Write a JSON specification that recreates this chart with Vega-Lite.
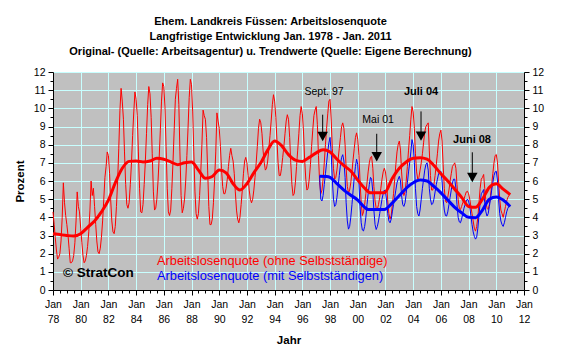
{
"$schema":"https://vega.github.io/schema/vega-lite/v6.json",
"width":471,"height":218,
"autosize":"none",
"padding":{"left":53,"top":72,"right":37,"bottom":68},
"background":"#FFFFFF",
"config":{"font":"Liberation Sans","view":{"fill":"#C0C0C0","stroke":null}},
"title":{"text":["Ehem. Landkreis Füssen: Arbeitslosenquote","Langfristige Entwicklung Jan. 1978 - Jan. 2011","Original- (Quelle: Arbeitsagentur) u. Trendwerte (Quelle: Eigene Berechnung)"],"font":"Liberation Sans","fontSize":11,"fontWeight":"bold","color":"#000000","lineHeight":15,"anchor":"middle","frame":"group","dx":-18,"offset":10},
"datasets":{
"red":[
{"d":"1978-01","v":4.3},{"d":"1978-02","v":3.6},{"d":"1978-03","v":2.9},{"d":"1978-04","v":2.2},{"d":"1978-05","v":1.7},{"d":"1978-06","v":1.8},{"d":"1978-07","v":2.0},{"d":"1978-08","v":2.7},{"d":"1978-09","v":4.0},{"d":"1978-10","v":5.9},{"d":"1978-11","v":4.8},{"d":"1978-12","v":4.1},
{"d":"1979-01","v":3.6},{"d":"1979-02","v":3.0},{"d":"1979-03","v":2.3},{"d":"1979-04","v":1.5},{"d":"1979-05","v":1.5},{"d":"1979-06","v":1.6},{"d":"1979-07","v":1.9},{"d":"1979-08","v":2.6},{"d":"1979-09","v":3.8},{"d":"1979-10","v":5.4},{"d":"1979-11","v":4.6},{"d":"1979-12","v":4.3},
{"d":"1980-01","v":3.4},{"d":"1980-02","v":2.6},{"d":"1980-03","v":1.9},{"d":"1980-04","v":1.5},{"d":"1980-05","v":1.6},{"d":"1980-06","v":1.9},{"d":"1980-07","v":2.4},{"d":"1980-08","v":3.2},{"d":"1980-09","v":4.4},{"d":"1980-10","v":6.0},{"d":"1980-11","v":5.2},{"d":"1980-12","v":5.6},
{"d":"1981-01","v":4.6},{"d":"1981-02","v":3.6},{"d":"1981-03","v":2.7},{"d":"1981-04","v":2.1},{"d":"1981-05","v":2.0},{"d":"1981-06","v":2.3},{"d":"1981-07","v":2.9},{"d":"1981-08","v":3.8},{"d":"1981-09","v":5.0},{"d":"1981-10","v":6.2},{"d":"1981-11","v":6.8},{"d":"1981-12","v":7.6},
{"d":"1982-01","v":7.4},{"d":"1982-02","v":6.4},{"d":"1982-03","v":5.0},{"d":"1982-04","v":3.8},{"d":"1982-05","v":3.2},{"d":"1982-06","v":3.1},{"d":"1982-07","v":3.5},{"d":"1982-08","v":4.6},{"d":"1982-09","v":6.0},{"d":"1982-10","v":7.8},{"d":"1982-11","v":9.9},{"d":"1982-12","v":11.1},
{"d":"1983-01","v":10.4},{"d":"1983-02","v":9.4},{"d":"1983-03","v":7.6},{"d":"1983-04","v":5.8},{"d":"1983-05","v":4.7},{"d":"1983-06","v":4.5},{"d":"1983-07","v":4.8},{"d":"1983-08","v":5.8},{"d":"1983-09","v":7.0},{"d":"1983-10","v":8.5},{"d":"1983-11","v":9.8},{"d":"1983-12","v":10.9},
{"d":"1984-01","v":10.5},{"d":"1984-02","v":9.6},{"d":"1984-03","v":7.6},{"d":"1984-04","v":5.6},{"d":"1984-05","v":4.3},{"d":"1984-06","v":4.25},{"d":"1984-07","v":4.7},{"d":"1984-08","v":5.8},{"d":"1984-09","v":7.1},{"d":"1984-10","v":8.6},{"d":"1984-11","v":10.2},{"d":"1984-12","v":11.2},
{"d":"1985-01","v":10.8},{"d":"1985-02","v":9.5},{"d":"1985-03","v":7.5},{"d":"1985-04","v":5.4},{"d":"1985-05","v":4.4},{"d":"1985-06","v":4.5},{"d":"1985-07","v":5.0},{"d":"1985-08","v":6.0},{"d":"1985-09","v":7.3},{"d":"1985-10","v":8.8},{"d":"1985-11","v":10.4},{"d":"1985-12","v":11.4},
{"d":"1986-01","v":11.2},{"d":"1986-02","v":10.0},{"d":"1986-03","v":7.9},{"d":"1986-04","v":5.6},{"d":"1986-05","v":4.3},{"d":"1986-06","v":4.1},{"d":"1986-07","v":4.4},{"d":"1986-08","v":5.6},{"d":"1986-09","v":7.1},{"d":"1986-10","v":8.8},{"d":"1986-11","v":10.5},{"d":"1986-12","v":11.1},
{"d":"1987-01","v":11.6},{"d":"1987-02","v":10.2},{"d":"1987-03","v":7.6},{"d":"1987-04","v":5.2},{"d":"1987-05","v":4.25},{"d":"1987-06","v":4.5},{"d":"1987-07","v":5.0},{"d":"1987-08","v":6.0},{"d":"1987-09","v":7.4},{"d":"1987-10","v":8.9},{"d":"1987-11","v":10.6},{"d":"1987-12","v":11.6},
{"d":"1988-01","v":11.3},{"d":"1988-02","v":9.8},{"d":"1988-03","v":7.6},{"d":"1988-04","v":5.4},{"d":"1988-05","v":4.2},{"d":"1988-06","v":3.9},{"d":"1988-07","v":4.2},{"d":"1988-08","v":5.2},{"d":"1988-09","v":6.5},{"d":"1988-10","v":8.0},{"d":"1988-11","v":9.9},{"d":"1988-12","v":9.6},
{"d":"1989-01","v":9.4},{"d":"1989-02","v":8.4},{"d":"1989-03","v":6.6},{"d":"1989-04","v":4.6},{"d":"1989-05","v":3.6},{"d":"1989-06","v":3.6},{"d":"1989-07","v":3.9},{"d":"1989-08","v":4.8},{"d":"1989-09","v":6.1},{"d":"1989-10","v":7.6},{"d":"1989-11","v":9.75},{"d":"1989-12","v":9.3},
{"d":"1990-01","v":8.9},{"d":"1990-02","v":7.9},{"d":"1990-03","v":6.7},{"d":"1990-04","v":5.7},{"d":"1990-05","v":5.3},{"d":"1990-06","v":5.3},{"d":"1990-07","v":5.6},{"d":"1990-08","v":6.1},{"d":"1990-09","v":6.8},{"d":"1990-10","v":7.4},{"d":"1990-11","v":7.8},{"d":"1990-12","v":7.4},
{"d":"1991-01","v":7.1},{"d":"1991-02","v":6.4},{"d":"1991-03","v":5.4},{"d":"1991-04","v":4.4},{"d":"1991-05","v":3.9},{"d":"1991-06","v":3.7},{"d":"1991-07","v":4.0},{"d":"1991-08","v":4.7},{"d":"1991-09","v":5.5},{"d":"1991-10","v":6.4},{"d":"1991-11","v":7.1},{"d":"1991-12","v":7.3},
{"d":"1992-01","v":7.0},{"d":"1992-02","v":6.3},{"d":"1992-03","v":5.5},{"d":"1992-04","v":5.0},{"d":"1992-05","v":4.8},{"d":"1992-06","v":5.0},{"d":"1992-07","v":5.5},{"d":"1992-08","v":6.2},{"d":"1992-09","v":7.0},{"d":"1992-10","v":7.9},{"d":"1992-11","v":8.9},{"d":"1992-12","v":9.4},
{"d":"1993-01","v":9.2},{"d":"1993-02","v":8.6},{"d":"1993-03","v":7.7},{"d":"1993-04","v":7.0},{"d":"1993-05","v":6.6},{"d":"1993-06","v":6.7},{"d":"1993-07","v":7.1},{"d":"1993-08","v":7.8},{"d":"1993-09","v":8.5},{"d":"1993-10","v":9.3},{"d":"1993-11","v":10.2},{"d":"1993-12","v":10.75},
{"d":"1994-01","v":10.4},{"d":"1994-02","v":9.5},{"d":"1994-03","v":8.3},{"d":"1994-04","v":7.0},{"d":"1994-05","v":6.3},{"d":"1994-06","v":6.3},{"d":"1994-07","v":6.7},{"d":"1994-08","v":7.3},{"d":"1994-09","v":7.9},{"d":"1994-10","v":8.6},{"d":"1994-11","v":9.3},{"d":"1994-12","v":9.65},
{"d":"1995-01","v":9.4},{"d":"1995-02","v":8.4},{"d":"1995-03","v":7.0},{"d":"1995-04","v":5.8},{"d":"1995-05","v":5.2},{"d":"1995-06","v":5.3},{"d":"1995-07","v":5.9},{"d":"1995-08","v":6.8},{"d":"1995-09","v":7.7},{"d":"1995-10","v":8.6},{"d":"1995-11","v":9.6},{"d":"1995-12","v":10.1},
{"d":"1996-01","v":9.7},{"d":"1996-02","v":8.7},{"d":"1996-03","v":7.2},{"d":"1996-04","v":6.1},{"d":"1996-05","v":5.5},{"d":"1996-06","v":5.6},{"d":"1996-07","v":6.1},{"d":"1996-08","v":6.9},{"d":"1996-09","v":7.9},{"d":"1996-10","v":8.8},{"d":"1996-11","v":9.6},{"d":"1996-12","v":9.9},
{"d":"1997-01","v":10.1},{"d":"1997-02","v":9.1},{"d":"1997-03","v":7.4},{"d":"1997-04","v":5.9},{"d":"1997-05","v":5.3},{"d":"1997-06","v":5.5},{"d":"1997-07","v":6.1},{"d":"1997-08","v":7.0},{"d":"1997-09","v":8.0},{"d":"1997-10","v":8.9},{"d":"1997-11","v":9.7},{"d":"1997-12","v":10.4},
{"d":"1998-01","v":10.5},{"d":"1998-02","v":9.3},{"d":"1998-03","v":7.8},{"d":"1998-04","v":6.7},{"d":"1998-05","v":6.1},{"d":"1998-06","v":6.2},{"d":"1998-07","v":6.6},{"d":"1998-08","v":7.2},{"d":"1998-09","v":7.8},{"d":"1998-10","v":8.4},{"d":"1998-11","v":9.0},{"d":"1998-12","v":9.2},
{"d":"1999-01","v":8.9},{"d":"1999-02","v":8.0},{"d":"1999-03","v":6.7},{"d":"1999-04","v":5.7},{"d":"1999-05","v":5.35},{"d":"1999-06","v":5.5},{"d":"1999-07","v":5.9},{"d":"1999-08","v":6.5},{"d":"1999-09","v":7.2},{"d":"1999-10","v":7.8},{"d":"1999-11","v":8.4},{"d":"1999-12","v":8.65},
{"d":"2000-01","v":8.3},{"d":"2000-02","v":7.4},{"d":"2000-03","v":6.0},{"d":"2000-04","v":4.8},{"d":"2000-05","v":4.1},{"d":"2000-06","v":4.3},{"d":"2000-07","v":4.7},{"d":"2000-08","v":5.3},{"d":"2000-09","v":5.9},{"d":"2000-10","v":6.5},{"d":"2000-11","v":7.0},{"d":"2000-12","v":7.3},
{"d":"2001-01","v":7.36},{"d":"2001-02","v":6.7},{"d":"2001-03","v":5.7},{"d":"2001-04","v":4.9},{"d":"2001-05","v":4.5},{"d":"2001-06","v":4.45},{"d":"2001-07","v":4.7},{"d":"2001-08","v":5.1},{"d":"2001-09","v":5.6},{"d":"2001-10","v":6.1},{"d":"2001-11","v":6.5},{"d":"2001-12","v":6.7},
{"d":"2002-01","v":6.5},{"d":"2002-02","v":5.9},{"d":"2002-03","v":4.9},{"d":"2002-04","v":4.2},{"d":"2002-05","v":3.9},{"d":"2002-06","v":4.1},{"d":"2002-07","v":4.7},{"d":"2002-08","v":5.3},{"d":"2002-09","v":6.1},{"d":"2002-10","v":6.9},{"d":"2002-11","v":7.6},{"d":"2002-12","v":8.0},
{"d":"2003-01","v":8.2},{"d":"2003-02","v":7.7},{"d":"2003-03","v":6.5},{"d":"2003-04","v":5.6},{"d":"2003-05","v":5.2},{"d":"2003-06","v":5.4},{"d":"2003-07","v":6.0},{"d":"2003-08","v":6.8},{"d":"2003-09","v":7.7},{"d":"2003-10","v":8.5},{"d":"2003-11","v":9.4},{"d":"2003-12","v":10.1},
{"d":"2004-01","v":9.8},{"d":"2004-02","v":8.9},{"d":"2004-03","v":7.5},{"d":"2004-04","v":6.5},{"d":"2004-05","v":6.1},{"d":"2004-06","v":6.2},{"d":"2004-07","v":6.6},{"d":"2004-08","v":7.0},{"d":"2004-09","v":7.5},{"d":"2004-10","v":8.1},{"d":"2004-11","v":8.7},{"d":"2004-12","v":9.0},
{"d":"2005-01","v":9.1},{"d":"2005-02","v":9.2},{"d":"2005-03","v":7.7},{"d":"2005-04","v":6.3},{"d":"2005-05","v":5.5},{"d":"2005-06","v":5.5},{"d":"2005-07","v":5.8},{"d":"2005-08","v":6.3},{"d":"2005-09","v":6.9},{"d":"2005-10","v":7.5},{"d":"2005-11","v":8.2},{"d":"2005-12","v":8.6},
{"d":"2006-01","v":8.8},{"d":"2006-02","v":8.2},{"d":"2006-03","v":6.9},{"d":"2006-04","v":5.6},{"d":"2006-05","v":4.9},{"d":"2006-06","v":4.8},{"d":"2006-07","v":5.1},{"d":"2006-08","v":5.5},{"d":"2006-09","v":6.0},{"d":"2006-10","v":6.4},{"d":"2006-11","v":6.8},{"d":"2006-12","v":6.9},
{"d":"2007-01","v":7.0},{"d":"2007-02","v":6.7},{"d":"2007-03","v":5.8},{"d":"2007-04","v":5.0},{"d":"2007-05","v":4.5},{"d":"2007-06","v":4.43},{"d":"2007-07","v":4.6},{"d":"2007-08","v":4.8},{"d":"2007-09","v":5.0},{"d":"2007-10","v":5.2},{"d":"2007-11","v":5.4},{"d":"2007-12","v":5.44},
{"d":"2008-01","v":5.3},{"d":"2008-02","v":5.0},{"d":"2008-03","v":4.6},{"d":"2008-04","v":4.2},{"d":"2008-05","v":3.8},{"d":"2008-06","v":3.4},{"d":"2008-07","v":3.24},{"d":"2008-08","v":3.5},{"d":"2008-09","v":4.0},{"d":"2008-10","v":4.8},{"d":"2008-11","v":5.6},{"d":"2008-12","v":6.1},
{"d":"2009-01","v":6.2},{"d":"2009-02","v":6.36},{"d":"2009-03","v":5.6},{"d":"2009-04","v":4.9},{"d":"2009-05","v":4.5},{"d":"2009-06","v":4.43},{"d":"2009-07","v":4.7},{"d":"2009-08","v":5.2},{"d":"2009-09","v":5.8},{"d":"2009-10","v":6.4},{"d":"2009-11","v":7.0},{"d":"2009-12","v":7.4},
{"d":"2010-01","v":7.46},{"d":"2010-02","v":7.0},{"d":"2010-03","v":6.0},{"d":"2010-04","v":5.0},{"d":"2010-05","v":4.4},{"d":"2010-06","v":4.2},{"d":"2010-07","v":4.0},{"d":"2010-08","v":4.3},{"d":"2010-09","v":4.6},{"d":"2010-10","v":4.9},{"d":"2010-11","v":5.1},{"d":"2010-12","v":5.2},
{"d":"2011-01","v":5.3}
],
"blue":[
{"d":"1997-04","v":6.3},{"d":"1997-05","v":5.0},{"d":"1997-06","v":4.9},{"d":"1997-07","v":5.2},{"d":"1997-08","v":5.8},{"d":"1997-09","v":6.4},{"d":"1997-10","v":7.0},{"d":"1997-11","v":7.6},{"d":"1997-12","v":8.1},
{"d":"1998-01","v":8.4},{"d":"1998-02","v":7.5},{"d":"1998-03","v":6.1},{"d":"1998-04","v":5.0},{"d":"1998-05","v":4.6},{"d":"1998-06","v":4.7},{"d":"1998-07","v":5.1},{"d":"1998-08","v":5.7},{"d":"1998-09","v":6.3},{"d":"1998-10","v":6.9},{"d":"1998-11","v":7.3},{"d":"1998-12","v":7.45},
{"d":"1999-01","v":7.1},{"d":"1999-02","v":6.2},{"d":"1999-03","v":4.8},{"d":"1999-04","v":3.8},{"d":"1999-05","v":3.35},{"d":"1999-06","v":3.5},{"d":"1999-07","v":4.0},{"d":"1999-08","v":4.7},{"d":"1999-09","v":5.5},{"d":"1999-10","v":6.2},{"d":"1999-11","v":6.8},{"d":"1999-12","v":7.2},
{"d":"2000-01","v":6.9},{"d":"2000-02","v":5.9},{"d":"2000-03","v":4.6},{"d":"2000-04","v":3.7},{"d":"2000-05","v":3.3},{"d":"2000-06","v":3.25},{"d":"2000-07","v":3.5},{"d":"2000-08","v":4.0},{"d":"2000-09","v":4.7},{"d":"2000-10","v":5.3},{"d":"2000-11","v":5.8},{"d":"2000-12","v":6.2},
{"d":"2001-01","v":6.1},{"d":"2001-02","v":5.4},{"d":"2001-03","v":4.4},{"d":"2001-04","v":3.6},{"d":"2001-05","v":3.33},{"d":"2001-06","v":3.5},{"d":"2001-07","v":3.8},{"d":"2001-08","v":4.2},{"d":"2001-09","v":4.6},{"d":"2001-10","v":5.0},{"d":"2001-11","v":5.3},{"d":"2001-12","v":5.5},
{"d":"2002-01","v":5.4},{"d":"2002-02","v":4.9},{"d":"2002-03","v":4.2},{"d":"2002-04","v":3.8},{"d":"2002-05","v":3.7},{"d":"2002-06","v":3.9},{"d":"2002-07","v":4.3},{"d":"2002-08","v":4.7},{"d":"2002-09","v":5.1},{"d":"2002-10","v":5.5},{"d":"2002-11","v":5.9},{"d":"2002-12","v":6.1},
{"d":"2003-01","v":6.26},{"d":"2003-02","v":6.0},{"d":"2003-03","v":5.2},{"d":"2003-04","v":4.7},{"d":"2003-05","v":4.6},{"d":"2003-06","v":4.8},{"d":"2003-07","v":5.3},{"d":"2003-08","v":5.9},{"d":"2003-09","v":6.5},{"d":"2003-10","v":7.0},{"d":"2003-11","v":7.6},{"d":"2003-12","v":8.28},
{"d":"2004-01","v":8.0},{"d":"2004-02","v":7.0},{"d":"2004-03","v":5.6},{"d":"2004-04","v":4.6},{"d":"2004-05","v":4.2},{"d":"2004-06","v":4.07},{"d":"2004-07","v":4.4},{"d":"2004-08","v":5.0},{"d":"2004-09","v":5.6},{"d":"2004-10","v":6.1},{"d":"2004-11","v":6.6},{"d":"2004-12","v":6.9},
{"d":"2005-01","v":7.0},{"d":"2005-02","v":6.6},{"d":"2005-03","v":5.6},{"d":"2005-04","v":5.0},{"d":"2005-05","v":4.7},{"d":"2005-06","v":4.75},{"d":"2005-07","v":5.0},{"d":"2005-08","v":5.4},{"d":"2005-09","v":5.8},{"d":"2005-10","v":6.1},{"d":"2005-11","v":6.4},{"d":"2005-12","v":6.5},
{"d":"2006-01","v":6.54},{"d":"2006-02","v":6.0},{"d":"2006-03","v":5.0},{"d":"2006-04","v":4.4},{"d":"2006-05","v":4.1},{"d":"2006-06","v":4.07},{"d":"2006-07","v":4.3},{"d":"2006-08","v":4.7},{"d":"2006-09","v":5.1},{"d":"2006-10","v":5.5},{"d":"2006-11","v":5.9},{"d":"2006-12","v":6.1},
{"d":"2007-01","v":6.1},{"d":"2007-02","v":5.6},{"d":"2007-03","v":4.7},{"d":"2007-04","v":4.0},{"d":"2007-05","v":3.75},{"d":"2007-06","v":3.7},{"d":"2007-07","v":3.9},{"d":"2007-08","v":4.2},{"d":"2007-09","v":4.5},{"d":"2007-10","v":4.7},{"d":"2007-11","v":4.9},{"d":"2007-12","v":5.0},
{"d":"2008-01","v":4.9},{"d":"2008-02","v":4.6},{"d":"2008-03","v":4.1},{"d":"2008-04","v":3.6},{"d":"2008-05","v":3.2},{"d":"2008-06","v":2.95},{"d":"2008-07","v":2.8},{"d":"2008-08","v":2.9},{"d":"2008-09","v":3.4},{"d":"2008-10","v":4.1},{"d":"2008-11","v":4.8},{"d":"2008-12","v":5.3},
{"d":"2009-01","v":5.4},{"d":"2009-02","v":5.53},{"d":"2009-03","v":4.8},{"d":"2009-04","v":4.3},{"d":"2009-05","v":4.07},{"d":"2009-06","v":4.2},{"d":"2009-07","v":4.6},{"d":"2009-08","v":5.0},{"d":"2009-09","v":5.5},{"d":"2009-10","v":5.9},{"d":"2009-11","v":6.3},{"d":"2009-12","v":6.5},
{"d":"2010-01","v":6.54},{"d":"2010-02","v":6.0},{"d":"2010-03","v":5.0},{"d":"2010-04","v":4.2},{"d":"2010-05","v":3.8},{"d":"2010-06","v":3.6},{"d":"2010-07","v":3.5},{"d":"2010-08","v":3.7},{"d":"2010-09","v":4.0},{"d":"2010-10","v":4.3},{"d":"2010-11","v":4.5},{"d":"2010-12","v":4.6},
{"d":"2011-01","v":4.6}
],
"redTrend":[
{"d":"1978-01","v":3.1},{"d":"1978-07","v":3.05},{"d":"1979-01","v":3.0},{"d":"1979-07","v":2.97},{"d":"1980-01","v":3.1},{"d":"1980-07","v":3.45},{"d":"1981-01","v":3.8},{"d":"1981-07","v":4.3},{"d":"1982-01","v":4.95},{"d":"1982-07","v":5.9},{"d":"1983-01","v":6.7},{"d":"1983-07","v":7.08},{"d":"1984-01","v":7.1},{"d":"1984-07","v":7.05},{"d":"1985-01","v":7.1},{"d":"1985-07","v":7.25},{"d":"1986-01","v":7.2},{"d":"1986-07","v":7.05},{"d":"1987-01","v":6.9},{"d":"1987-07","v":7.0},{"d":"1988-01","v":7.05},{"d":"1988-07","v":6.6},{"d":"1989-01","v":6.15},{"d":"1989-07","v":6.25},{"d":"1990-01","v":6.6},{"d":"1990-07","v":6.45},{"d":"1991-01","v":5.85},{"d":"1991-07","v":5.5},{"d":"1992-01","v":5.85},{"d":"1992-07","v":6.45},{"d":"1993-01","v":7.0},{"d":"1993-07","v":7.7},{"d":"1994-01","v":8.2},{"d":"1994-07","v":7.95},{"d":"1995-01","v":7.45},{"d":"1995-07","v":7.15},{"d":"1996-01","v":7.08},{"d":"1996-07","v":7.3},{"d":"1997-01","v":7.55},{"d":"1997-07","v":7.72},{"d":"1998-01","v":7.6},{"d":"1998-07","v":7.2},{"d":"1999-01","v":6.85},{"d":"1999-07","v":6.55},{"d":"2000-01","v":6.05},{"d":"2000-07","v":5.6},{"d":"2000-12","v":5.35},{"d":"2001-12","v":5.35},{"d":"2002-07","v":6.15},{"d":"2003-01","v":6.7},{"d":"2003-07","v":7.05},{"d":"2004-01","v":7.25},{"d":"2004-07","v":7.28},{"d":"2005-01","v":7.2},{"d":"2005-07","v":6.85},{"d":"2006-01","v":6.4},{"d":"2006-07","v":6.0},{"d":"2007-01","v":5.55},{"d":"2007-07","v":5.1},{"d":"2008-01","v":4.6},{"d":"2008-07","v":4.55},{"d":"2009-01","v":5.0},{"d":"2009-07","v":5.65},{"d":"2010-01","v":5.85},{"d":"2010-07","v":5.55},{"d":"2011-01","v":5.25}
],
"blueTrend":[
{"d":"1997-04","v":6.26},{"d":"1997-10","v":6.25},{"d":"1998-01","v":6.2},{"d":"1998-07","v":5.85},{"d":"1999-01","v":5.5},{"d":"1999-07","v":5.22},{"d":"2000-01","v":4.95},{"d":"2000-07","v":4.55},{"d":"2000-10","v":4.43},{"d":"2001-12","v":4.43},{"d":"2002-07","v":4.8},{"d":"2003-01","v":5.2},{"d":"2003-07","v":5.6},{"d":"2004-01","v":5.9},{"d":"2004-07","v":6.05},{"d":"2005-01","v":6.0},{"d":"2005-07","v":5.7},{"d":"2006-01","v":5.35},{"d":"2006-07","v":4.95},{"d":"2007-01","v":4.55},{"d":"2007-07","v":4.25},{"d":"2008-01","v":4.0},{"d":"2008-07","v":3.98},{"d":"2009-01","v":4.4},{"d":"2009-07","v":5.0},{"d":"2010-01","v":5.12},{"d":"2010-07","v":4.95},{"d":"2011-01","v":4.6}
],
"arrows":[
{"d":"1997-06-20","top":9.65,"head":8.45},{"d":"2001-05-15","top":8.6,"head":7.33},{"d":"2004-07-26","top":9.83,"head":8.47},{"d":"2008-04-08","top":7.58,"head":6.19}
]
},
"encoding":{
"x":{"field":"d","type":"temporal","scale":{"type":"utc","domain":[{"year":1978,"month":1,"date":1,"utc":true},{"year":2012,"month":1,"date":1,"utc":true}]},
"axis":{"tickCount":{"interval":"month","step":6},"labelExpr":"utcmonth(datum.value) === 0 && utcyear(datum.value) % 2 === 0 ? ['Jan', utcFormat(datum.value, '%y')] : ''","labelOverlap":false,"labelFlush":false,"labelFontSize":10.5,"labelColor":"#000000","labelLineHeight":15,"labelPadding":4,"grid":true,"gridColor":"#C8FFFF","gridWidth":1,"gridOpacity":{"condition":{"test":"utcmonth(datum.value) === 0 && utcyear(datum.value) % 2 === 0","value":1},"value":0},"tickColor":"#000000","tickSize":{"condition":{"test":"utcmonth(datum.value) === 0 && utcyear(datum.value) % 2 === 0","value":5},"value":3},"domainColor":"#000000","title":"Jahr","titleFontSize":11.5,"titleFontWeight":"bold","titleColor":"#000000","titlePadding":10}}
},
"layer":[
{"data":{"name":"red"},"mark":{"type":"line","color":"#FF0000","strokeWidth":1},
 "encoding":{"y":{"field":"v","type":"quantitative","scale":{"domain":[0,12],"nice":false,"zero":false},
 "axis":{"orient":"left","values":[0,0.5,1,1.5,2,2.5,3,3.5,4,4.5,5,5.5,6,6.5,7,7.5,8,8.5,9,9.5,10,10.5,11,11.5,12],"labelExpr":"datum.value % 1 === 0 ? format(datum.value, 'd') : ''","labelOverlap":false,"labelFontSize":10.5,"labelColor":"#000000","labelPadding":3,"grid":true,"gridColor":"#C8FFFF","gridWidth":1,"gridOpacity":{"condition":{"test":"datum.value % 1 === 0","value":1},"value":0},"tickColor":"#000000","tickSize":{"condition":{"test":"datum.value % 1 === 0","value":5},"value":3},"domainColor":"#000000","title":"Prozent","titleFontSize":11.5,"titleFontWeight":"bold","titleColor":"#000000","titlePadding":8}}}},
{"data":{"name":"blue"},"mark":{"type":"line","color":"#0000FF","strokeWidth":1},
 "encoding":{"y":{"field":"v","type":"quantitative","scale":{"domain":[0,12],"nice":false,"zero":false},
 "axis":{"orient":"right","values":[0,0.5,1,1.5,2,2.5,3,3.5,4,4.5,5,5.5,6,6.5,7,7.5,8,8.5,9,9.5,10,10.5,11,11.5,12],"labelExpr":"datum.value % 1 === 0 ? format(datum.value, 'd') : ''","labelOverlap":false,"labelFontSize":10.5,"labelColor":"#000000","labelPadding":3,"grid":false,"tickColor":"#000000","tickSize":{"condition":{"test":"datum.value % 1 === 0","value":5},"value":3},"domainColor":"#000000","title":null}}}},
{"data":{"name":"redTrend"},"mark":{"type":"line","color":"#FF0000","strokeWidth":3,"interpolate":"monotone"},
 "encoding":{"y":{"field":"v","type":"quantitative","axis":null}}},
{"data":{"name":"blueTrend"},"mark":{"type":"line","color":"#0000FF","strokeWidth":3,"interpolate":"monotone"},
 "encoding":{"y":{"field":"v","type":"quantitative","axis":null}}},
{"data":{"name":"arrows"},"mark":{"type":"rule","color":"#000000","strokeWidth":1},
 "encoding":{"y":{"field":"top","type":"quantitative","axis":null},"y2":{"field":"head"}}},
{"data":{"name":"arrows"},"mark":{"type":"point","shape":"M-1,-0.9L1,-0.9L0,0.9Z","filled":true,"color":"#000000","opacity":1,"size":110},
 "encoding":{"y":{"field":"head","type":"quantitative","axis":null}}},
{"data":{"values":[{"d":"1997-07-26","v":10.9,"t":"Sept. 97"},{"d":"2001-06-20","v":9.38,"t":"Mai 01"}]},
 "mark":{"type":"text","font":"Liberation Sans","fontSize":10.5,"color":"#000000","align":"center","baseline":"middle"},
 "encoding":{"y":{"field":"v","type":"quantitative","axis":null},"text":{"field":"t"}}},
{"data":{"values":[{"d":"2004-07-26","v":10.9,"t":"Juli 04"},{"d":"2008-04-01","v":8.28,"t":"Juni 08"}]},
 "mark":{"type":"text","font":"Liberation Sans","fontSize":11,"fontWeight":"bold","color":"#000000","align":"center","baseline":"middle"},
 "encoding":{"y":{"field":"v","type":"quantitative","axis":null},"text":{"field":"t"}}},
{"data":{"values":[{"d":"1985-07-05","v":1.58,"t":"Arbeitslosenquote (ohne Selbstständige)"}]},
 "mark":{"type":"text","font":"Liberation Sans","fontSize":12.8,"color":"#FF0000","align":"left","baseline":"middle"},
 "encoding":{"y":{"field":"v","type":"quantitative","axis":null},"text":{"field":"t"}}},
{"data":{"values":[{"d":"1985-07-05","v":0.75,"t":"Arbeitslosenquote (mit Selbstständigen)"}]},
 "mark":{"type":"text","font":"Liberation Sans","fontSize":12.8,"color":"#0000FF","align":"left","baseline":"middle"},
 "encoding":{"y":{"field":"v","type":"quantitative","axis":null},"text":{"field":"t"}}},
{"data":{"values":[{"d":"1978-09-20","v":0.92,"t":"© StratCon"}]},
 "mark":{"type":"text","font":"Liberation Sans","fontSize":13.5,"fontWeight":"bold","color":"#000000","align":"left","baseline":"middle"},
 "encoding":{"y":{"field":"v","type":"quantitative","axis":null},"text":{"field":"t"}}}
],
"resolve":{"axis":{"y":"independent"}}
}
